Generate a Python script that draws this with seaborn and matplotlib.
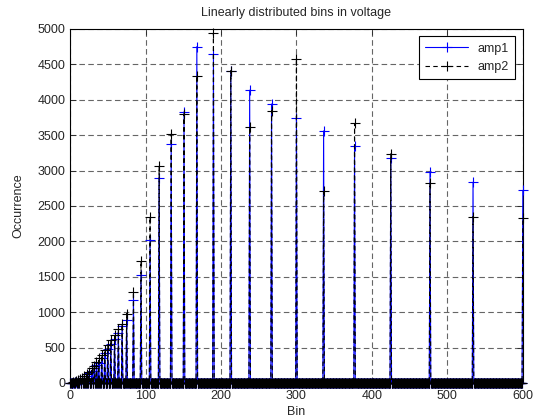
import numpy as np
import pandas as pd
import matplotlib
matplotlib.use("Agg")
import matplotlib.pyplot as plt
import seaborn as sns

# spike positions (bin index) and counts
spike_bins = [2, 4, 6, 8, 10, 13, 16, 19, 22, 25, 29, 32, 35, 38, 42, 46, 50, 54, 59, 64,
              69, 75, 84, 94, 106, 118, 134, 151, 168, 190, 213, 238, 267, 300, 336, 377,
              425, 477, 534, 600]
amp1_counts = [3, 6, 10, 18, 28, 40, 55, 75, 100, 137, 173, 207, 253, 286, 348, 418, 474,
               545, 615, 700, 800, 887, 1170, 1520, 2020, 2890, 3375, 3830, 4750, 4640,
               4400, 4135, 3940, 3740, 3560, 3350, 3170, 2985, 2835, 2720]
amp2_counts = [4, 8, 14, 24, 36, 50, 70, 95, 127, 159, 207, 239, 291, 348, 394, 465, 535,
               605, 676, 756, 831, 980, 1285, 1720, 2340, 3060, 3515, 3800, 4340, 4940,
               4410, 3610, 3845, 4575, 2705, 3665, 3235, 2830, 2350, 2335]

n_bins = 601

# full histograms: zero everywhere except at the spikes
bins = np.arange(n_bins)
amp1 = np.zeros(n_bins)
amp2 = np.zeros(n_bins)
amp1[spike_bins] = amp1_counts
amp2[spike_bins] = amp2_counts
df = pd.DataFrame({'Bin': bins, 'amp1': amp1, 'amp2': amp2})

sns.set_style('ticks')
plt.rcParams['font.family'] = ['Liberation Sans', 'DejaVu Sans']
plt.rcParams['font.size'] = 9

fig = plt.figure(figsize=(5.39, 4.19), dpi=100)
ax = fig.add_axes([0.130, 0.086, 0.840, 0.845])

sns.lineplot(data=df, x='Bin', y='amp1', ax=ax, color='blue', estimator=None)
sns.lineplot(data=df, x='Bin', y='amp2', ax=ax, color='black', estimator=None)

# seaborn gives markers a white edge, so style the lines directly
styles = [('amp1', 'blue', '-'), ('amp2', 'black', (0, (4, 3)))]
for line, (name, col, ls) in zip(ax.lines, styles):
    line.set_label(name)
    line.set_color(col)
    line.set_linestyle(ls)
    line.set_linewidth(0.8)
    line.set_marker('+')
    line.set_markersize(7)
    line.set_markeredgewidth(0.8)
    line.set_markeredgecolor(col)
    line.set_markerfacecolor(col)
    line.set_clip_on(False)
    line.set_zorder(3)

ax.set_xlim(0, 600)
ax.set_ylim(0, 5000)
ax.set_xticks(range(0, 601, 100))
ax.set_yticks(range(0, 5001, 500))
ax.grid(True, color='0.4', linestyle=(0, (5, 3)), linewidth=0.8)
ax.tick_params(direction='in', length=4, top=True, right=True, labelsize=9, width=0.6)
ax.tick_params(axis='x', pad=5)
for s in ax.spines.values():
    s.set_linewidth(0.8)
    s.set_color('black')
    s.set_visible(True)

ax.set_title('Linearly distributed bins in voltage', fontsize=9, pad=9)
ax.set_xlabel('Bin', fontsize=9, labelpad=3)
ax.set_ylabel('Occurrence', fontsize=9, labelpad=9)

leg = ax.legend(handles=ax.lines[:2], loc='upper right', fancybox=False, edgecolor='black',
                framealpha=1, handlelength=3.4, fontsize=9, borderaxespad=0.6,
                borderpad=0.5)
leg.get_frame().set_linewidth(0.8)

fig.savefig('out.png', dpi=100)
